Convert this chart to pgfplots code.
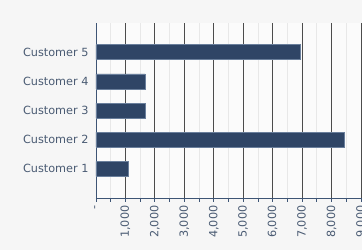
\documentclass[border=0pt]{standalone}
\usepackage{pgfplots}
\pgfplotsset{compat=1.18}
\usepackage{fontspec}
\setmainfont{DejaVu Sans}
\definecolor{outerbg}{HTML}{F6F6F6}
\definecolor{innerbg}{HTML}{FBFBFB}
\definecolor{axisblue}{HTML}{3E5575}
\definecolor{barfill}{HTML}{2F4566}
\definecolor{baredge}{HTML}{6A7F9C}
\definecolor{labelc}{HTML}{4A5B73}
\begin{document}
\begin{tikzpicture}
\fill[outerbg] (-96bp,-52bp) rectangle (266bp,198bp);
\path[use as bounding box] (-96bp,-52bp) rectangle (266bp,198bp);
\begin{axis}[
  at={(0,0)}, anchor=south west,
  scale only axis,
  width=265bp, height=175bp,
  xmin=0, xmax=9000, ymin=0, ymax=6,
  axis background/.style={fill=innerbg},
  axis x line*=bottom, axis y line*=left,
  axis line style={axisblue, line width=0.8pt},
  xtick={0,1000,...,9000},
  minor xtick={500,1500,...,8500},
  xticklabels={{-},{1,000},{2,000},{3,000},{4,000},{5,000},{6,000},{7,000},{8,000},{9,000}},
  xticklabel style={rotate=90, anchor=east, font=\fontsize{11.3}{13}\selectfont, text=labelc},
  xmajorgrids, xminorgrids,
  major grid style={black!70, line width=0.8pt},
  minor grid style={black!9, line width=0.8pt},
  tick style={axisblue, line width=0.8pt},
  xtick align=outside,
  major tick length=4bp, minor tick length=4bp,
  ytick={1,2,3,4,5},
  yticklabels={Customer 1,Customer 2,Customer 3,Customer 4,Customer 5},
  yticklabel style={font=\fontsize{11.3}{13}\selectfont, text=labelc},
  ymajorticks=true, y tick style={draw=none},
  xbar, bar width=15bp,
  clip=false,
]
\addplot[fill=barfill, draw=baredge, line width=0.6pt] coordinates {
  (1080,1) (8430,2) (1670,3) (1670,4) (6950,5)
};
\end{axis}
\end{tikzpicture}
\end{document}
